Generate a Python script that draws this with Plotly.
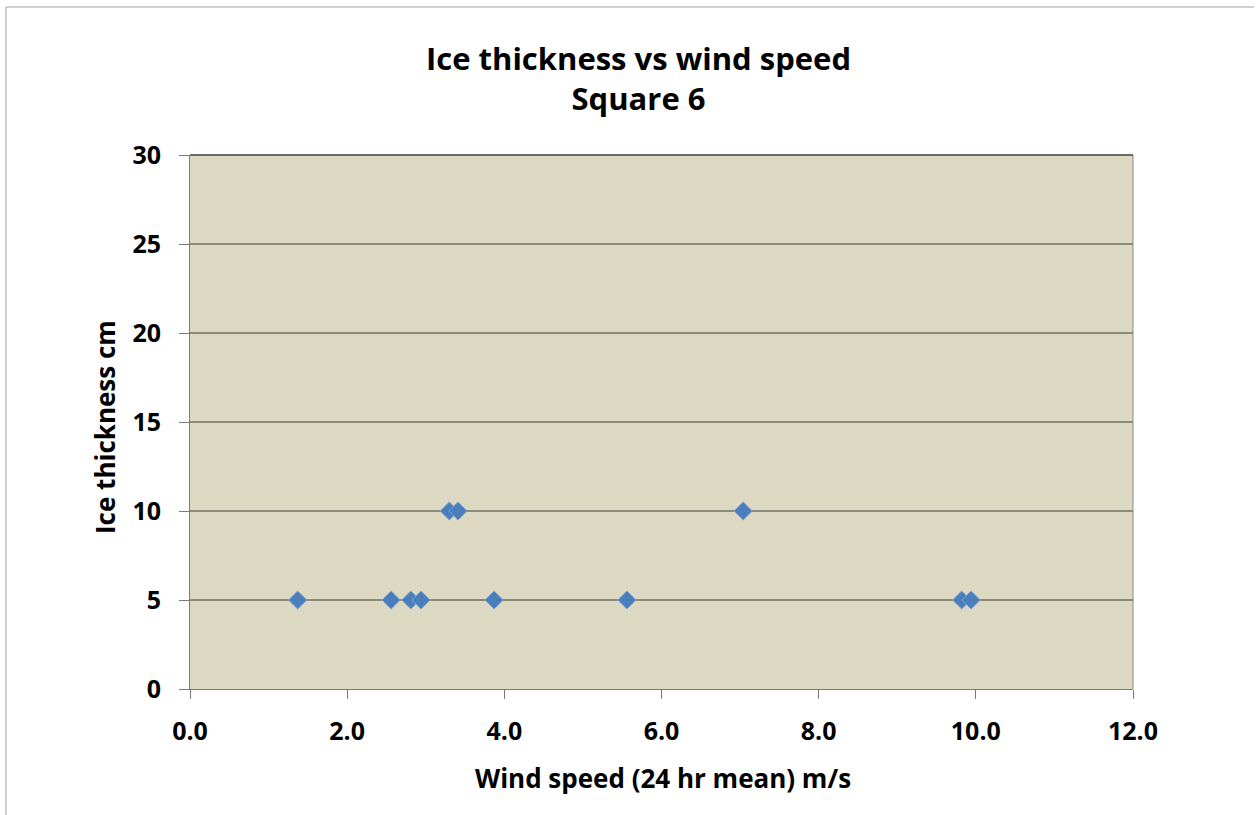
import plotly.graph_objects as go

wind_speed = [1.37, 2.56, 2.81, 2.94, 3.30, 3.41, 3.87, 5.56, 7.04, 9.82, 9.94]
ice_thickness = [5, 5, 5, 5, 10, 10, 5, 5, 10, 5, 5]

x_ticks = [0, 2, 4, 6, 8, 10, 12]
x_tick_labels = ["0.0", "2.0", "4.0", "6.0", "8.0", "10.0", "12.0"]
y_ticks = [0, 5, 10, 15, 20, 25, 30]

W, H = 1258, 815
L, R, T, B = 190, 125, 155, 126
PW, PH = W - L - R, H - T - B

font_family = "'Open Sans', sans-serif"

fig = go.Figure()
fig.add_trace(go.Scatter(
    x=wind_speed, y=ice_thickness, mode="markers",
    marker=dict(symbol="diamond", size=14, color="#4a7ebb",
                line=dict(width=1, color="#7fa3d1")),
    showlegend=False, hoverinfo="x+y"))

fig.update_layout(
    width=W, height=H,
    margin=dict(l=L, r=R, t=T, b=B),
    paper_bgcolor="white",
    plot_bgcolor="#ddd8c2",
    font=dict(family=font_family, color="black"),
    xaxis=dict(range=[0, 12], tickvals=x_ticks, ticktext=x_tick_labels,
               showgrid=False, zeroline=False, showline=True,
               linecolor="#7a7a7a", linewidth=1, ticks="outside",
               ticklen=9, tickcolor="#7a7a7a", tickwidth=1,
               ticklabelstandoff=11,
               tickfont=dict(size=25, family=font_family, weight="bold"),
               mirror=False),
    yaxis=dict(range=[0, 30], tickvals=y_ticks, showgrid=True,
               gridcolor="#8c8a78", gridwidth=1.5, zeroline=False,
               showline=True, linecolor="#7a7a7a", linewidth=1,
               ticks="outside", ticklen=10, tickcolor="#7a7a7a", tickwidth=1,
               ticklabelstandoff=13,
               tickfont=dict(size=25, family=font_family, weight="bold")),
    shapes=[
        dict(type="line", xref="paper", yref="paper", x0=1, x1=1, y0=0, y1=1,
             line=dict(color="#868686", width=1)),
        dict(type="line", xref="paper", yref="paper", x0=0, x1=1, y0=1, y1=1,
             line=dict(color="#404040", width=1.5)),
        dict(type="line", xref="paper", yref="paper",
             x0=-(L - 6) / PW, x1=1 + (R - 4) / PW,
             y0=1 + (T - 7) / PH, y1=1 + (T - 7) / PH,
             line=dict(color="#a0a0a0", width=1)),
        dict(type="line", xref="paper", yref="paper",
             x0=-(L - 6) / PW, x1=-(L - 6) / PW,
             y0=1 + (T - 7) / PH, y1=-B / PH,
             line=dict(color="#a0a0a0", width=1)),
    ],
    annotations=[
        dict(text="Ice thickness vs wind speed<br>Square 6", xref="paper", yref="paper",
             x=(638 - L) / PW, y=1 + (T - 78) / PH,
             showarrow=False, xanchor="center", yanchor="middle", align="center",
             font=dict(size=31, family=font_family, weight="bold")),
        dict(text="Wind speed (24 hr mean) m/s", xref="paper", yref="paper",
             x=(663 - L) / PW, y=-(778 - (H - B)) / PH,
             showarrow=False, xanchor="center", yanchor="middle",
             font=dict(size=26, family=font_family, weight="bold")),
        dict(text="Ice thickness cm", xref="paper", yref="paper",
             x=-(L - 105) / PW, y=1 - (427 - T) / PH,
             textangle=-90, showarrow=False, xanchor="center", yanchor="middle",
             font=dict(size=26, family=font_family, weight="bold")),
    ],
)

fig.write_html("out.html")
